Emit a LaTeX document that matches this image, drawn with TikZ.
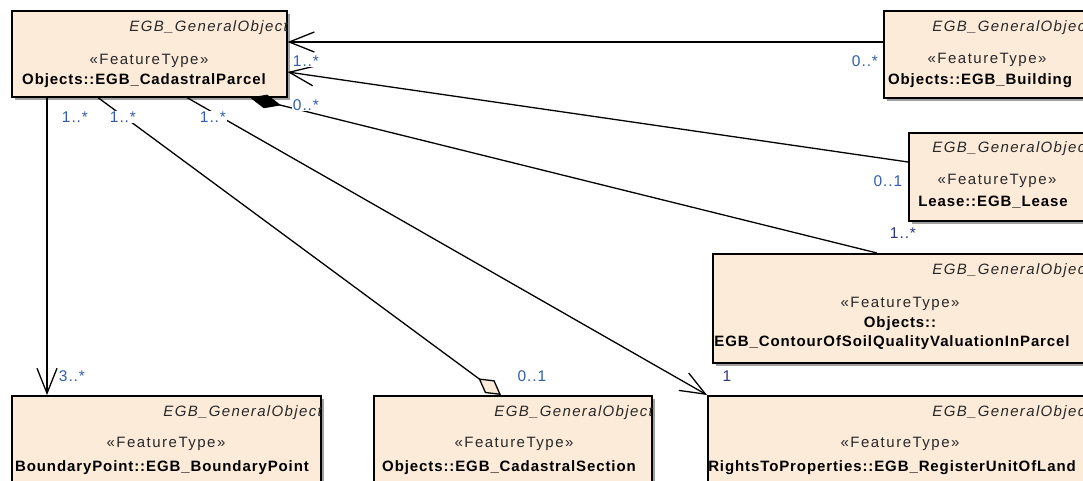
\documentclass[tikz,border=0pt]{standalone}
\usepackage{fontspec}
\setmainfont{Liberation Sans}
\newfontfamily\genfont[LetterSpace=9]{Liberation Sans}
\newfontfamily\stfont[LetterSpace=10]{Liberation Sans}
\newfontfamily\bdfont[LetterSpace=6]{Liberation Sans}
\newfontfamily\mfont[LetterSpace=6]{Liberation Sans}
\usetikzlibrary{arrows.meta,shadows}
\definecolor{boxfill}{RGB}{253,235,217}
\definecolor{shadowgray}{RGB}{160,160,160}
\definecolor{textgray}{RGB}{40,40,40}
\definecolor{multblue}{RGB}{50,95,170}
\definecolor{multnavy}{RGB}{45,55,125}
\tikzset{
  umlbox/.style={draw=black, line width=1.6pt, fill=boxfill, anchor=north west, inner sep=0pt,
    drop shadow={shadow xshift=3pt, shadow yshift=-3pt, fill=shadowgray, opacity=1}},
  gentext/.style={font=\fontsize{15}{17}\selectfont\genfont\itshape, text=textgray, anchor=base east, inner sep=0pt},
  sttext/.style={font=\fontsize{15}{17}\selectfont\stfont, text=textgray, anchor=base, inner sep=0pt},
  nmtext/.style={font=\fontsize{15}{17}\selectfont\bdfont\bfseries, text=black, anchor=base, inner sep=0pt},
  mult/.style={font=\fontsize{15.5}{17}\selectfont\mfont, text=multblue, fill=white, inner sep=1pt},
  assoc/.style={draw=black, line width=1.3pt},
  openarrow/.style={-{Straight Barb[length=25pt,width=20pt]}},
}
\begin{document}
\begin{tikzpicture}[x=1pt,y=-1pt]
\useasboundingbox (0,0) rectangle (1083,481);
\fill[white] (0,0) rectangle (1083,481);
\clip (0,0) rectangle (1083,481);
% boxes
\node[umlbox, minimum width=275pt, minimum height=86pt] (parcel) at (11,10) {};
\node[umlbox, minimum width=206pt, minimum height=87pt] (building) at (883,10) {};
\node[umlbox, minimum width=181pt, minimum height=88pt] (lease) at (908,132) {};
\node[umlbox, minimum width=377pt, minimum height=109pt] (contour) at (712,253) {};
\node[umlbox, minimum width=309pt, minimum height=110pt] (boundary) at (11,395) {};
\node[umlbox, minimum width=278pt, minimum height=110pt] (section) at (373,395) {};
\node[umlbox, minimum width=382pt, minimum height=110pt] (register) at (707,395) {};
% texts
\node[gentext] (parcel-g) at (288,32) {EGB\_GeneralObject};
\node[sttext] (parcel-s) at (149,65) {«FeatureType»};
\node[nmtext] (parcel-n) at (144,85) {Objects::EGB\_CadastralParcel};
\node[gentext] (building-g) at (1091,32) {EGB\_GeneralObject};
\node[sttext] (building-s) at (987,64) {«FeatureType»};
\node[nmtext] (building-n) at (980,85) {Objects::EGB\_Building};
\node[gentext] (lease-g) at (1091,153) {EGB\_GeneralObject};
\node[sttext] (lease-s) at (997,185) {«FeatureType»};
\node[nmtext] (lease-n) at (993,206) {Lease::EGB\_Lease};
\node[gentext] (contour-g) at (1091,274) {EGB\_GeneralObject};
\node[sttext] (contour-s) at (900,307) {«FeatureType»};
\node[nmtext] (contour-n1) at (900,327) {Objects::};
\node[nmtext] (contour-n2) at (892,346) {EGB\_ContourOfSoilQualityValuationInParcel};
\node[gentext] (boundary-g) at (322,416) {EGB\_GeneralObject};
\node[sttext] (boundary-s) at (166,447) {«FeatureType»};
\node[nmtext] (boundary-n) at (162,471) {BoundaryPoint::EGB\_BoundaryPoint};
\node[gentext] (section-g) at (653,416) {EGB\_GeneralObject};
\node[sttext] (section-s) at (514,447) {«FeatureType»};
\node[nmtext] (section-n) at (509,471) {Objects::EGB\_CadastralSection};
\node[gentext] (register-g) at (1091,416) {EGB\_GeneralObject};
\node[sttext] (register-s) at (900,447) {«FeatureType»};
\node[nmtext] (register-n) at (892,471) {RightsToProperties::EGB\_RegisterUnitOfLand};
% connectors
\draw[assoc, openarrow] ([yshift=-32pt]building.north west) -- ([yshift=-32pt]parcel.north east);
\draw[assoc, openarrow] ([yshift=-30pt]lease.north west) -- ([yshift=-62pt]parcel.north east);
\draw[assoc, {Diamond[length=32pt,width=14pt]}-] ([xshift=239pt]parcel.south west) -- ([xshift=165pt]contour.north west);
\draw[assoc, openarrow] ([xshift=36pt]parcel.south west) -- ([xshift=36pt]boundary.north west);
\draw[assoc, -{Diamond[fill=boxfill,length=28pt,width=16pt]}] ([xshift=87pt]parcel.south west) -- ([xshift=128pt]section.north west);
\draw[assoc, openarrow] ([xshift=176pt]parcel.south west) -- (register.north west);
% multiplicities
\node[mult] (m-pb) at (306,61) {1..*};
\node[mult] (m-bp) at (865,61) {0..*};
\node[mult] (m-lp) at (888,181) {0..1};
\node[mult] (m-pc) at (306,105) {0..*};
\node[mult, text=multnavy] (m-cp) at (903,233) {1..*};
\node[mult] (m-p1) at (75,117) {1..*};
\node[mult] (m-p2) at (123,117) {1..*};
\node[mult] (m-p3) at (213,117) {1..*};
\node[mult] (m-bd) at (72,376) {3..*};
\node[mult] (m-sc) at (532,376) {0..1};
\node[mult, text=multnavy] (m-rg) at (727,376) {1};
\end{tikzpicture}
\end{document}
